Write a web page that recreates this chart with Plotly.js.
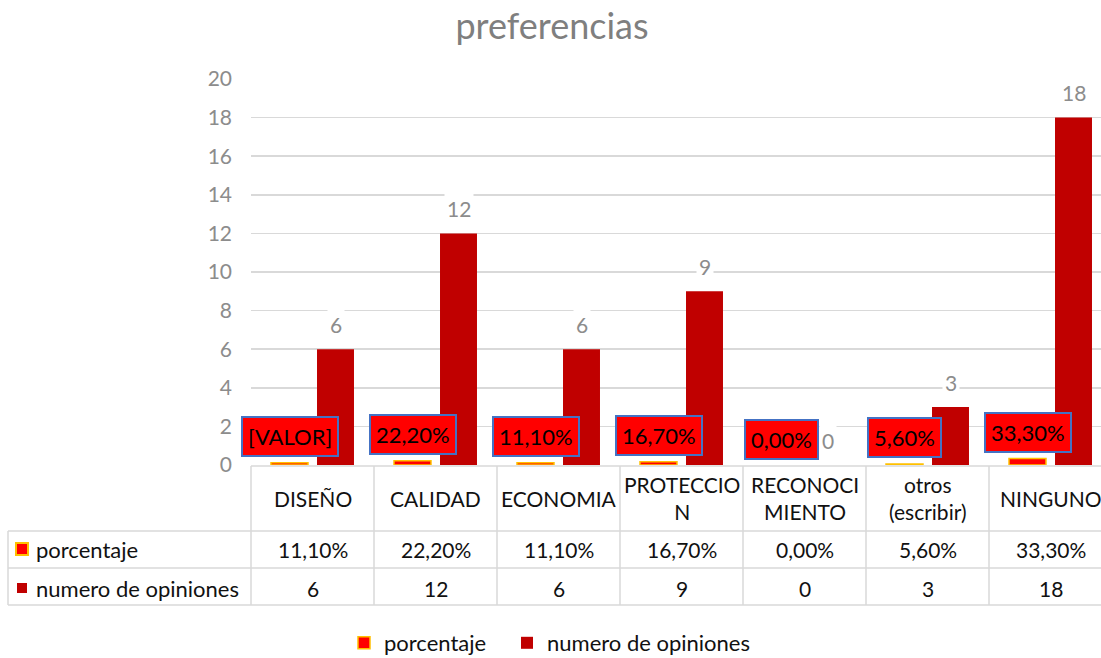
<!DOCTYPE html>
<html>
<head>
<meta charset="utf-8">
<script src="https://cdn.plot.ly/plotly-3.0.1.min.js"></script>
<style>html,body{margin:0;padding:0;background:#fff;}#chart{width:1101px;height:658px;}</style>
</head>
<body>
<div id="chart"></div>
<script>
// ---- data ----
const categories = ["DISEÑO", "CALIDAD", "ECONOMIA", "PROTECCIO<br>N", "RECONOCI<br>MIENTO", "otros<br>(escribir)", "NINGUNO"];
const porcentaje = [0.111, 0.222, 0.111, 0.167, 0.000, 0.056, 0.333];
const opiniones = [6, 12, 6, 9, 0, 3, 18];
const pctLabels = ["[VALOR]", "22,20%", "11,10%", "16,70%", "0,00%", "5,60%", "33,30%"];
const seriesNames = ["porcentaje", "numero de opiniones"];
const yTicks = [0, 2, 4, 6, 8, 10, 12, 14, 16, 18, 20];
const chartTitle = "preferencias";

// ---- layout helpers ----
const FONT = "Lato, 'Open Sans', sans-serif";
const X0 = 251, W = 850, Y0 = 465, H = 386, FW = 1101, FH = 658;
const fx = px => (px - X0) / W;
const fy = py => (Y0 - py) / H;
const catIdx = categories.map((c, i) => i);
const fmtPct = v => (v * 100).toFixed(2).replace('.', ',') + '%';
const gridCol = '#d9d9d9';

const traces = [
  {type: 'bar', name: seriesNames[0], x: catIdx, y: porcentaje, legend: 'legend',
   marker: {color: '#FF0000', line: {color: '#FFC000', width: porcentaje.map(v => v > 0 ? 1.5 : 0)}}, hoverinfo: 'skip'},
  {type: 'bar', name: seriesNames[1], x: catIdx, y: opiniones, legend: 'legend2',
   marker: {color: '#C00000', line: {width: 0}}, hoverinfo: 'skip'}
];

const annotations = [];
const shapes = [];
const txt = {family: FONT, size: 21, color: '#111'};
catIdx.forEach(i => {
  // percentage data labels (boxes)
  annotations.push({x: i, y: porcentaje[i], xref: 'x', yref: 'y', xshift: -23, yshift: 26,
    yanchor: 'middle', text: pctLabels[i], showarrow: false,
    bgcolor: '#FF0000', bordercolor: '#4472C4', borderwidth: 2, borderpad: 5,
    font: {family: FONT, size: 22, color: '#000'}});
  // count data labels
  annotations.push({x: i, y: opiniones[i], xref: 'x', yref: 'y', xshift: 23, yshift: 25,
    yanchor: 'middle', text: String(opiniones[i]), showarrow: false,
    bgcolor: '#ffffff', borderpad: 2,
    font: {family: FONT, size: 21, color: '#8c8c8c'}});
  // table cells
  annotations.push({x: i, y: fy(498), xref: 'x', yref: 'paper', yanchor: 'middle',
    text: categories[i], showarrow: false, font: txt});
  annotations.push({x: i, y: fy(549), xref: 'x', yref: 'paper', yanchor: 'middle',
    text: fmtPct(porcentaje[i]), showarrow: false, font: txt});
  annotations.push({x: i, y: fy(588), xref: 'x', yref: 'paper', yanchor: 'middle',
    text: String(opiniones[i]), showarrow: false, font: txt});
});
// row headers
annotations.push({x: fx(34), y: fy(549), xref: 'paper', yref: 'paper', xanchor: 'left', yanchor: 'middle',
  text: seriesNames[0], showarrow: false, font: {family: FONT, size: 22, color: '#111'}});
annotations.push({x: fx(34), y: fy(588), xref: 'paper', yref: 'paper', xanchor: 'left', yanchor: 'middle',
  text: seriesNames[1], showarrow: false, font: {family: FONT, size: 22, color: '#111'}});
// row header keys
shapes.push({type: 'rect', xref: 'paper', yref: 'paper', x0: fx(16), x1: fx(28), y0: fy(555), y1: fy(543),
  fillcolor: '#FF0000', line: {color: '#FFC000', width: 2}});
shapes.push({type: 'rect', xref: 'paper', yref: 'paper', x0: fx(17), x1: fx(27), y0: fy(593), y1: fy(583),
  fillcolor: '#C00000', line: {width: 0}});
// table lines
const tl = {color: gridCol, width: 1.5};
shapes.push({type: 'line', xref: 'paper', yref: 'paper', x0: 0, x1: fx(FW), y0: fy(466), y1: fy(466), line: tl});
[531, 568, 605].forEach(py => shapes.push({type: 'line', xref: 'paper', yref: 'paper',
  x0: fx(8), x1: fx(FW), y0: fy(py), y1: fy(py), line: tl}));
shapes.push({type: 'line', xref: 'paper', yref: 'paper', x0: 0, x1: 0, y0: fy(466), y1: fy(605), line: tl});
shapes.push({type: 'line', xref: 'paper', yref: 'paper', x0: fx(8), x1: fx(8), y0: fy(531), y1: fy(605), line: tl});
catIdx.slice(0, -1).forEach(i => shapes.push({type: 'line', xref: 'x', yref: 'paper',
  x0: i + 0.5, x1: i + 0.5, y0: fy(466), y1: fy(605), line: tl}));

const legFont = {family: FONT, size: 22, color: '#111'};
const layout = {
  width: FW, height: FH,
  margin: {l: X0, r: FW - X0 - W, t: Y0 - H, b: FH - Y0, autoexpand: false},
  paper_bgcolor: '#fff', plot_bgcolor: '#fff',
  title: {text: chartTitle, x: 552 / FW, xref: 'container', xanchor: 'center',
    y: 1 - 26 / FH, yref: 'container', yanchor: 'middle',
    font: {family: FONT, size: 36, color: '#7f7f7f'}},
  barmode: 'group', bargap: 0.252, bargroupgap: 0.196,
  xaxis: {range: [-0.5, -0.5 + W / 123], showticklabels: false, showgrid: false, zeroline: false,
    showline: false, ticks: '', fixedrange: true},
  yaxis: {range: [0, 20], tickvals: yTicks, ticktext: yTicks.map(String), showgrid: true, gridcolor: gridCol,
    gridwidth: 1.5, zeroline: false, showline: false, ticks: '', ticklabelstandoff: 18,
    tickfont: {family: FONT, size: 21, color: '#8c8c8c'}, fixedrange: true},
  showlegend: true,
  legend: {orientation: 'h', x: fx(344), xanchor: 'left', y: fy(643), yanchor: 'middle',
    font: legFont, bgcolor: 'rgba(0,0,0,0)'},
  legend2: {orientation: 'h', x: fx(507), xanchor: 'left', y: fy(643), yanchor: 'middle',
    font: legFont, bgcolor: 'rgba(0,0,0,0)'},
  annotations: annotations,
  shapes: shapes
};

Plotly.newPlot('chart', traces, layout, {displayModeBar: false, staticPlot: true});
</script>
</body>
</html>
